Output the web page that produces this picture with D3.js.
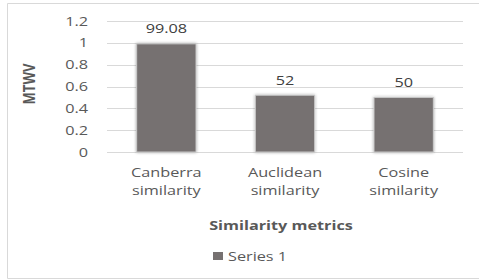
<!DOCTYPE html>
<html>
<head>
<meta charset="utf-8">
<script src="https://cdn.jsdelivr.net/npm/d3@7"></script>
<style>
  html, body { margin: 0; padding: 0; background: #fff; }
  svg { display: block; }
</style>
</head>
<body>
<div id="chart"></div>
<script>
// Similarity metrics vs MTWV, single series
const categories = [['Canberra', 'similarity'], ['Auclidean', 'similarity'], ['Cosine', 'similarity']];
const values     = [0.9908, 0.52, 0.50];
const labels     = ['99.08', '52', '50'];
const yTicks     = [0, 0.2, 0.4, 0.6, 0.8, 1, 1.2];

const W = 479, H = 280;
const plot = { left: 107, right: 463, top: 21, bottom: 152 };
const SX = 1.25;            // reference text is horizontally stretched
const FONT = 'Open Sans';

const svg = d3.select('#chart').append('svg')
  .attr('width', W).attr('height', H);

// frame
svg.append('path')
  .attr('d', `M${W},3.5 H7.5 V278.5 H${W}`)
  .attr('fill', 'none').attr('stroke', '#d9d9d9');

const x = d3.scaleBand()
  .domain(d3.range(categories.length))
  .range([plot.left, plot.right])
  .paddingInner(0.5).paddingOuter(0.25);

const y = d3.scaleLinear().domain([0, 1.2]).range([plot.bottom, plot.top]);

// stretched text helper
function txt(px, py, s, opts = {}) {
  const g = svg.append('g')
    .attr('transform', `translate(${px},${py}) scale(${SX},1)` + (opts.rotate ? ` rotate(${opts.rotate})` : ''));
  return g.append('text')
    .attr('text-anchor', opts.anchor || 'middle')
    .attr('dy', '0.35em')
    .attr('font-family', FONT)
    .attr('font-size', opts.size || 13)
    .attr('font-weight', opts.bold ? 700 : 400)
    .attr('fill', opts.fill || '#595959')
    .text(s);
}

// gridlines
svg.append('g').selectAll('line')
  .data(yTicks)
  .join('line')
    .attr('x1', plot.left).attr('x2', plot.right)
    .attr('y1', d => Math.round(y(d)) + 0.5)
    .attr('y2', d => Math.round(y(d)) + 0.5)
    .attr('stroke', '#d9d9d9');

// y tick labels
yTicks.forEach(t => txt(88, y(t), String(t), { anchor: 'end' }));

// bar shadow filter
const defs = svg.append('defs');
const f = defs.append('filter').attr('id', 'sh').attr('x', '-20%').attr('y', '-10%').attr('width', '140%').attr('height', '120%');
f.append('feGaussianBlur').attr('in', 'SourceAlpha').attr('stdDeviation', 1.5).attr('result', 'b');
f.append('feComponentTransfer').attr('in', 'b').attr('result', 'b2')
  .append('feFuncA').attr('type', 'linear').attr('slope', 0.35);
const m = f.append('feMerge');
m.append('feMergeNode').attr('in', 'b2');
m.append('feMergeNode').attr('in', 'SourceGraphic');

// bars
svg.append('g').selectAll('rect')
  .data(values)
  .join('rect')
    .attr('x', (d, i) => x(i))
    .attr('y', d => y(d))
    .attr('width', x.bandwidth())
    .attr('height', d => y(0) - y(d))
    .attr('fill', '#767171')
    .attr('stroke', '#c9c9c9')
    .attr('stroke-width', 1)
    .attr('filter', 'url(#sh)');

// data labels
values.forEach((v, i) => txt(x(i) + x.bandwidth() / 2, y(v) - 15, labels[i], { fill: '#404040' }));

// category labels
categories.forEach((lines, i) => {
  const cx = x(i) + x.bandwidth() / 2;
  lines.forEach((s, j) => txt(cx, 172 + j * 18, s));
});

// axis titles
txt(29, 84, 'MTWV', { bold: true, rotate: -90, size: 13 });
txt(281, 225, 'Similarity metrics', { bold: true, size: 13 });

// legend
svg.append('rect')
  .attr('x', 213).attr('y', 252).attr('width', 10).attr('height', 8)
  .attr('fill', '#767171');
txt(228, 256, 'Series 1', { anchor: 'start' });
</script>
</body>
</html>
